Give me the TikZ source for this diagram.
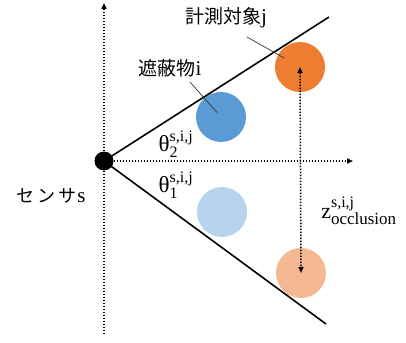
\documentclass[tikz,border=0pt]{standalone}
\usepackage{fontspec}
\setmainfont{Liberation Serif}
\newfontfamily\jpfont{Noto Sans CJK JP}
\usepackage{tikz}
\usetikzlibrary{arrows.meta, positioning}

\definecolor{occlblue}{RGB}{91,155,213}
\definecolor{occlpale}{RGB}{183,211,238}
\definecolor{targorange}{RGB}{237,125,49}
\definecolor{targpale}{RGB}{244,184,146}

\newcommand{\scr}[1]{\hbox{\fontsize{16}{18}\selectfont #1}}
\newcommand{\angvar}[1]{\hbox{\fontsize{23}{26}\selectfont θ}_{\scr{#1}}^{\scr{s,i,j}}}

\begin{document}
\begin{tikzpicture}[
    x=1pt, y=-1pt,
    >={Triangle[length=6pt,width=5pt]},
    ball/.style={
        circle,
        inner sep=0pt,
        minimum size=50pt
    },
    axis/.style={
        line width=1.5pt,
        dash pattern=on 1.6pt off 1.4pt,
        draw=black
    },
    ray/.style={
        line width=1.6pt,
        draw=black
    },
    leader/.style={
        line width=0.7pt,
        draw=black!80
    },
    lbl/.style={
        font=\fontsize{21}{24}\selectfont,
        inner sep=1pt
    }
]

\useasboundingbox (0,0) rectangle (406,342);

% --- Objects -----------------------------------------------------------------

\node[ball, fill=occlblue] (occl) at (221,117) {};
\node[ball, fill=targorange] (targ) at (300,67) {};
\node[ball, fill=occlpale] (occlmir) at (222,212) {};
\node[ball, fill=targpale] (targmir) at (301,273) {};

% --- Sensor and axes ---------------------------------------------------------

\node[circle, fill=black, inner sep=0pt, minimum size=19pt] (sensor) at (104,161) {};
\coordinate (axtop) at (104,3);
\coordinate (axbot) at (104,334);
\coordinate (axright) at (353,161);
\coordinate (uprayend) at (329,17);
\coordinate (lorayend) at (326,324);

\draw[axis, ->] (sensor) -- (axtop);
\draw[axis] (sensor) -- (axbot);
\draw[axis, ->] (sensor) -- (axright);

\draw[ray] (sensor.center) -- (uprayend);
\draw[ray] (sensor.center) -- (lorayend);

\draw[axis, <->] (targ.center) -- (targmir.center);

% --- Labels ------------------------------------------------------------------

\node[lbl] (targlbl) at (226,18) {{\jpfont\fontsize{19}{22}\selectfont 計測対象}j};
\node[lbl] (occllbl) at (170,68) {{\jpfont\fontsize{19}{22}\selectfont 遮蔽物}i};
\node[lbl] (sensorlbl) at (51,196) {{\jpfont\fontsize{18}{22}\selectfont セ\hspace{3pt}ン\hspace{3pt}サ}\hspace{1pt}s};

\node[lbl] (theta2) at (176,144) {$\angvar{2}$};
\node[lbl] (theta1) at (176,185) {$\angvar{1}$};
\node[lbl] (zocc) at (359,211) {$\hbox{\fontsize{22}{24}\selectfont z}_{\hbox{\fontsize{17}{18}\selectfont occlusion}}^{\scr{s,i,j}}$};

\coordinate (targlead) at (247,37);
\coordinate (occllead) at (190,82);
\draw[leader, shorten >=18pt] (targlead) -- (targ.center);
\draw[leader, shorten >=6pt] (occllead) -- (occl.center);

\end{tikzpicture}
\end{document}
